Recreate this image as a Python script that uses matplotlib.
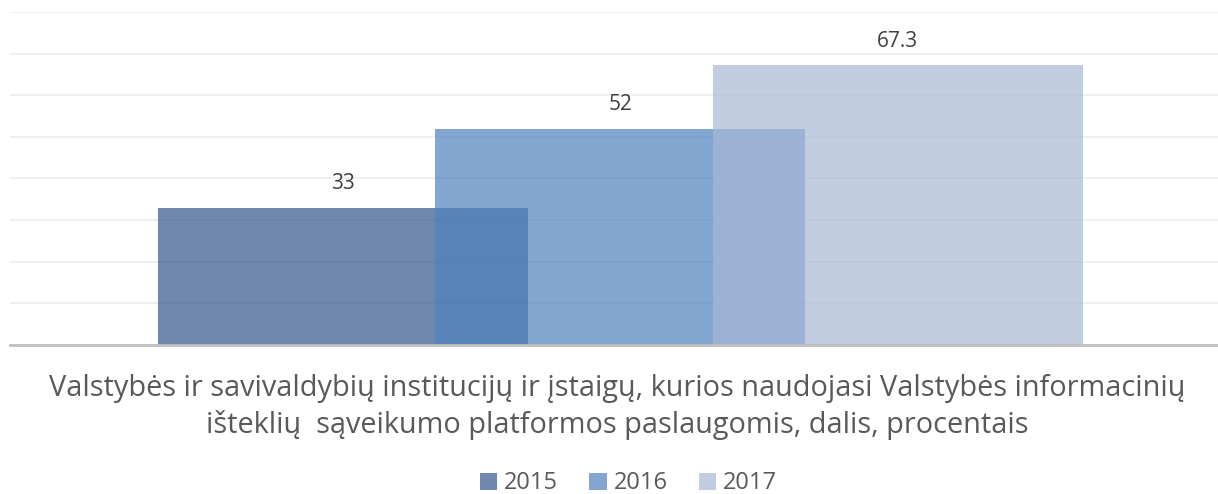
import matplotlib.pyplot as plt
from matplotlib.patches import Patch

plt.rcParams['font.family'] = ['Open Sans', 'DejaVu Sans']

years = ['2015', '2016', '2017']
values = [33, 52, 67.3]
colors = ['#34568a', '#4f81bd', '#a8b9d6']
title = ('Valstybės ir savivaldybių institucijų ir įstaigų, kurios naudojasi Valstybės informacinių\n'
         'išteklių  sąveikumo platformos paslaugomis, dalis, procentais')

fig = plt.figure(figsize=(12.18, 4.94), dpi=100)
ax = fig.add_axes([10 / 1218, 149 / 494, 1208 / 1218, 333 / 494])

# overlapping bars, one category, negative gap
width = 1.0
step = 0.75
for i, (yr, v, c) in enumerate(zip(years, values, colors)):
    x = (i - 1) * step
    ax.bar(x, v, width=width, color=c, alpha=0.7, zorder=2 + i, linewidth=0)
    ax.text(x, v + 3.2, f'{v:g}', ha='center', va='bottom', fontsize=15, color='#404040', zorder=10)

ax.set_xlim(-1.649, 1.616)
ax.set_ylim(0, 80)
ax.set_yticks(range(0, 81, 10))
ax.yaxis.grid(True, color='#f0f0f0', linewidth=1.5, zorder=0)
ax.set_axisbelow(True)
ax.tick_params(left=False, bottom=False, labelleft=False, labelbottom=False)
for s in ['top', 'right', 'left']:
    ax.spines[s].set_visible(False)
ax.spines['bottom'].set_color('#bfbfbf')
ax.spines['bottom'].set_linewidth(2)
ax.spines['bottom'].set_zorder(20)

fig.text(0.507, 0.176, title, ha='center', va='center', fontsize=20.8, color='#595959', linespacing=1.3)

handles = [Patch(facecolor=c, alpha=0.7, edgecolor='none') for c in colors]
fig.legend(handles, years, loc='lower center', bbox_to_anchor=(0.516, -0.046), ncol=3, frameon=False,
           fontsize=17, labelcolor='#595959', handlelength=0.75, handleheight=0.75,
           handletextpad=0.3, columnspacing=1.3)

fig.savefig('out.png', dpi=100)
